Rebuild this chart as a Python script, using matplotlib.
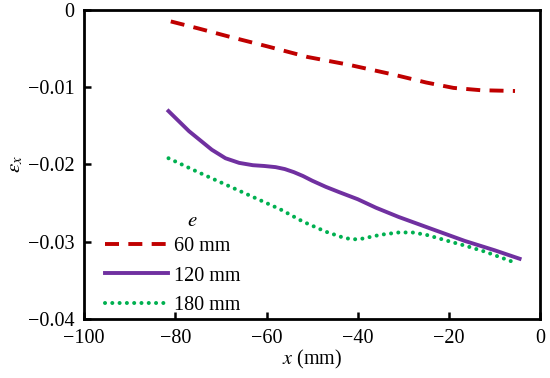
import matplotlib.pyplot as plt
import numpy as np

plt.rcParams['font.family'] = ['Liberation Serif', 'DejaVu Serif']
plt.rcParams['mathtext.fontset'] = 'stix'

# e = 60 mm
x60 = [-81, -75, -68, -60, -51, -42, -32, -25, -19, -13, -5.5]
y60 = [-0.0015, -0.0024, -0.0035, -0.0047, -0.0061, -0.0071, -0.0084,
       -0.0094, -0.0101, -0.0104, -0.0105]

# e = 120 mm
x120 = [-81.5, -77, -72, -69, -66, -63, -60.5, -58, -56, -54, -52, -50,
        -47, -44, -40, -36, -31, -24, -16.5, -10, -4.5]
y120 = [-0.0131, -0.0157, -0.0181, -0.0192, -0.0198, -0.0201, -0.0202,
        -0.02035, -0.0206, -0.0210, -0.0215, -0.0221, -0.0229, -0.0236,
        -0.0245, -0.0256, -0.0268, -0.0283, -0.0299, -0.0311, -0.0322]

# e = 180 mm
x180 = [-81.5, -75, -69, -63, -57, -52, -47, -43, -41, -39, -35, -31,
        -28, -25, -22, -19, -16.5, -12, -6]
y180 = [-0.0192, -0.0210, -0.0226, -0.0242, -0.0258, -0.0274, -0.0287,
        -0.0295, -0.0297, -0.0296, -0.0291, -0.0288, -0.0288, -0.0291,
        -0.0296, -0.0301, -0.0305, -0.0313, -0.0326]

labels = ['60 mm', '120 mm', '180 mm']

fig = plt.figure(figsize=(5.5, 3.78), dpi=100)
ax = fig.add_axes([0.153, 0.156, 0.829, 0.818])

ax.plot(x60, y60, color='#c00000', lw=2.8, dashes=(3.6, 2.4), label=labels[0])
ax.plot(x120, y120, color='#7030a0', lw=2.8, label=labels[1])
ax.plot(x180, y180, color='#00b050', lw=2.9, dashes=(0.01, 1.8),
        dash_capstyle='round', label=labels[2])

ax.set_xlim(-100, 0)
ax.set_ylim(-0.04, 0)
ax.set_xticks([-100, -80, -60, -40, -20, 0])
ax.set_yticks([0, -0.01, -0.02, -0.03, -0.04])
ax.set_xticklabels(['\u2212100', '\u221280', '\u221260', '\u221240', '\u221220', '0'])
ax.set_yticklabels(['0', '\u22120.01', '\u22120.02', '\u22120.03', '\u22120.04'])
ax.tick_params(direction='in', length=5, width=1.8, labelsize=14.5)
ax.tick_params(axis='y', pad=7)
ax.tick_params(axis='x', pad=7)
for s in ax.spines.values():
    s.set_linewidth(2.0)

ax.set_xlabel('$x$ (mm)', fontsize=14.5, labelpad=0)
ax.set_ylabel(r'$\varepsilon_x$', fontsize=15, labelpad=2)

ax.legend(loc='lower left', bbox_to_anchor=(0.02, -0.025), frameon=False,
          fontsize=14.5, handlelength=3.1, handletextpad=0.3, labelspacing=0.5,
          borderaxespad=0.2)
ax.text(0.225, 0.3, '$e$', transform=ax.transAxes, fontsize=15)

fig.savefig('out.png', dpi=100)
